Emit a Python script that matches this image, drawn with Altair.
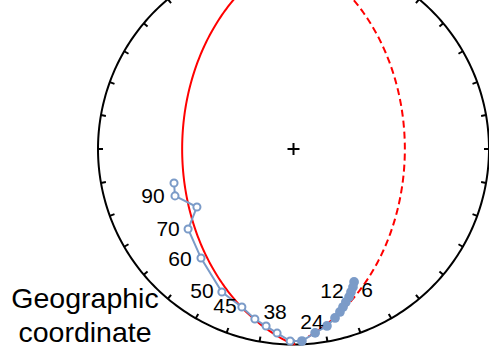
import math
import pandas as pd
import altair as alt

# Demagnetization steps with their directions (declination / inclination, degrees)
steps = [0, 3, 6, 9, 12, 15, 18, 21, 24, 28, 32, 35, 38, 40, 42, 45, 50, 60, 70, 80, 90, 100]
decs = [155.5, 156.7, 158.1, 159.4, 161.1, 162.6, 164.1, 166.2, 169.3, 173.3, 177.5,
        181.0, 185.1, 188.8, 192.8, 198.1, 206.6, 220.3, 232.8, 239.0, 248.4, 254.1]
incs = [26.2, 24.1, 22.2, 20.3, 18.4, 16.4, 14.4, 12.0, 8.7, 5.9, 1.9,
        -2.0, -6.1, -9.2, -11.8, -16.1, -19.3, -27.7, -32.8, -41.9, -35.1, -36.6]
labeled_steps = [6, 12, 24, 38, 45, 50, 60, 70, 90]

# Best-fit great circle (plane strike / dip, degrees)
gc_strike = 180.0
gc_dip = 42.5

# label placement around each labelled point (pixels)
label_offsets = {6: (16, -1), 12: (-14, -10), 24: (-15, -3), 38: (-2, -20), 45: (-17, 0),
                 50: (-20, 0), 60: (-21, 2), 70: (-20, 1), 90: (-22, 1.5)}

BLUE = "#7b9bc8"
W, H = 489, 346
XDOM = [-1.5013, 1.0]
YDOM = [-1.0077, 0.7621]


def project(dec, inc):
    """Lambert equal-area projection, unit primitive circle."""
    r = math.sqrt(2) * math.sin(math.radians(90 - abs(inc)) / 2)
    return r * math.sin(math.radians(dec)), r * math.cos(math.radians(dec))


xs = alt.Scale(domain=XDOM, nice=False, zero=False)
ys = alt.Scale(domain=YDOM, nice=False, zero=False)
X = lambda f: alt.X(f, type="quantitative", scale=xs, axis=None)
Y = lambda f: alt.Y(f, type="quantitative", scale=ys, axis=None)

# primitive circle
prim = pd.DataFrame([{"i": a, "x": math.sin(math.radians(a)), "y": math.cos(math.radians(a))}
                     for a in range(0, 361)])
prim_layer = alt.Chart(prim).mark_line(color="black", strokeWidth=2, clip=True).encode(
    x=X("x"), y=Y("y"), order="i:Q")

# 10-degree ticks pointing inward
tick_len = 5 / 195.5
ticks = pd.DataFrame([{"x": math.sin(math.radians(a)), "y": math.cos(math.radians(a)),
                       "x2": (1 - tick_len) * math.sin(math.radians(a)),
                       "y2": (1 - tick_len) * math.cos(math.radians(a))}
                      for a in range(0, 360, 10)])
tick_layer = alt.Chart(ticks).mark_rule(color="black", strokeWidth=2, clip=True).encode(
    x=X("x"), y=Y("y"), x2="x2:Q", y2="y2:Q")

# great circle: lower hemisphere solid, upper hemisphere dashed
dip_dir = gc_strike + 90
sd, cd = math.sin(math.radians(gc_dip)), math.cos(math.radians(gc_dip))
gc_rows = []
for b in range(0, 181):
    cb, sb = math.cos(math.radians(b)), math.sin(math.radians(b))
    n = cb * math.cos(math.radians(gc_strike)) + sb * cd * math.cos(math.radians(dip_dir))
    e = cb * math.sin(math.radians(gc_strike)) + sb * cd * math.sin(math.radians(dip_dir))
    d = sb * sd
    trend = math.degrees(math.atan2(e, n))
    plunge = math.degrees(math.asin(d))
    lx, ly = project(trend, plunge)
    ux, uy = project(trend + 180, -plunge)
    gc_rows.append({"i": b, "x": lx, "y": ly, "hemi": "lower"})
    gc_rows.append({"i": b, "x": ux, "y": uy, "hemi": "upper"})
gc = pd.DataFrame(gc_rows)
gc_lower = alt.Chart(gc[gc.hemi == "lower"]).mark_line(color="red", strokeWidth=2, clip=True).encode(
    x=X("x"), y=Y("y"), order="i:Q")
gc_upper = alt.Chart(gc[gc.hemi == "upper"]).mark_line(
    color="red", strokeWidth=2, strokeDash=[7, 4], clip=True).encode(
    x=X("x"), y=Y("y"), order="i:Q")

# demagnetization path
pts = []
for k, (s, dd, ii) in enumerate(zip(steps, decs, incs)):
    px, py = project(dd, ii)
    pts.append({"k": k, "step": s, "x": px, "y": py, "down": ii >= 0})
pdf = pd.DataFrame(pts)

path_layer = alt.Chart(pdf).mark_line(color=BLUE, strokeWidth=2).encode(
    x=X("x"), y=Y("y"), order="k:Q")
down_layer = alt.Chart(pdf[pdf.down]).mark_point(
    shape="circle", filled=True, color=BLUE, size=95, opacity=1).encode(x=X("x"), y=Y("y"))
up_layer = alt.Chart(pdf[~pdf.down]).mark_point(
    shape="circle", filled=True, fill="white", stroke=BLUE, strokeWidth=2, size=50, opacity=1
).encode(x=X("x"), y=Y("y"))

label_layers = []
for s in labeled_steps:
    dx, dy = label_offsets[s]
    label_layers.append(
        alt.Chart(pdf[pdf.step == s]).mark_text(
            font="Liberation Sans", fontSize=21, color="black", align="center",
            baseline="middle", dx=dx, dy=dy).encode(x=X("x"), y=Y("y"), text="step:Q"))

# centre cross
centre = alt.Chart(pd.DataFrame({"x": [0.0], "y": [0.0]})).mark_point(
    shape="M-1,0L1,0M0,-1L0,1", size=144, color="black", strokeWidth=2, filled=False, opacity=1
).encode(x=X("x"), y=Y("y"))

caption = alt.Chart(pd.DataFrame({"t": ["Geographic", "coordinate"], "py": [308, 342]})).mark_text(
    font="Liberation Sans", fontSize=28.5, color="black", align="center", baseline="alphabetic"
).encode(x=alt.value(85),
         y=alt.Y("py:Q", scale=alt.Scale(domain=[0, H], range=[0, H]), axis=None),
         text="t:N")

chart = alt.layer(
    prim_layer, tick_layer, gc_lower, gc_upper, path_layer, up_layer, down_layer,
    centre, *label_layers, caption
).resolve_scale(y="independent").properties(
    width=W, height=H, padding=0, autosize=alt.AutoSizeParams(type="none")
).configure_view(stroke=None)

chart.save("out.html", embed_options={"renderer": "svg", "actions": False})
